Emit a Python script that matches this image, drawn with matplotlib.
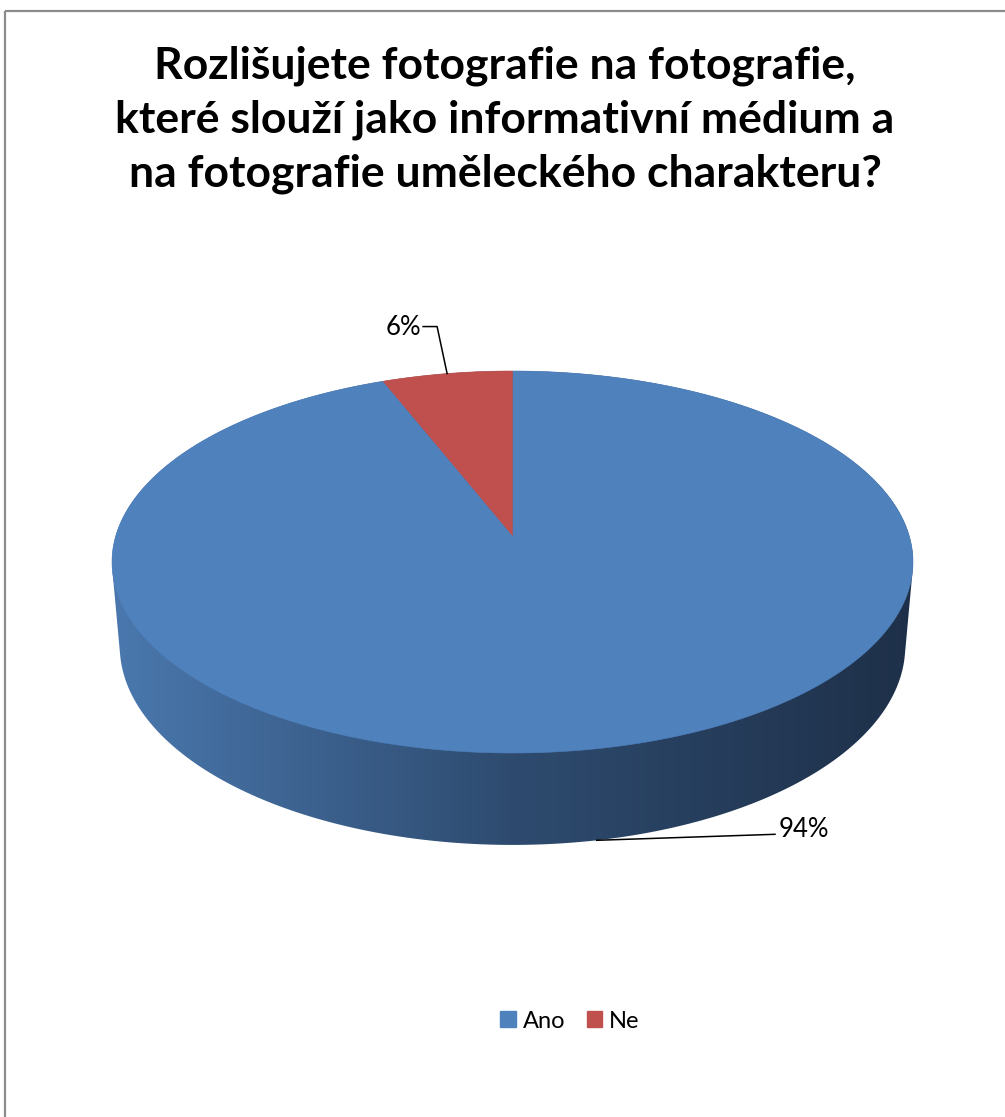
import numpy as np
import matplotlib
matplotlib.use('Agg')
import matplotlib.pyplot as plt
from matplotlib.patches import Polygon, Rectangle, Patch

# survey answers
labels = ['Ano', 'Ne']
values = [94, 6]
colors = ['#4F81BD', '#C0504D']
title_lines = ['Rozlišujete fotografie na fotografie,',
               'které slouží jako informativní médium a',
               'na fotografie uměleckého charakteru?']

W, H = 1005, 1117
FONT = ['Lato', 'DejaVu Sans']

# 3d pie view settings
elev = np.radians(29)
dist = 6.3
depth = 0.252
box = (112, 913, 371, 753)  # left, right, top, bottom of the top face


def project(t, y):
    X = np.cos(t)
    Z = -np.sin(t)
    yp = y * np.cos(elev) - Z * np.sin(elev)
    zp = y * np.sin(elev) + Z * np.cos(elev)
    s = dist / (dist - zp)
    return X * s, yp * s


tt = np.linspace(0, 2 * np.pi, 721)
ox, oy = project(tt, 0.0)
kx = (box[1] - box[0]) / (ox.max() - ox.min())
ky = (box[3] - box[2]) / (oy.max() - oy.min())


def to_px(x, y):
    return box[0] + (x - ox.min()) * kx, box[2] + (oy.max() - y) * ky


def face_pt(t, y=0.0):
    return to_px(*project(t, y))


def hull(pts):
    pts = sorted(set(map(tuple, np.round(pts, 4))))

    def cross(o, a, b):
        return (a[0] - o[0]) * (b[1] - o[1]) - (a[1] - o[1]) * (b[0] - o[0])

    lower, upper = [], []
    for p in pts:
        while len(lower) >= 2 and cross(lower[-2], lower[-1], p) <= 0:
            lower.pop()
        lower.append(p)
    for p in reversed(pts):
        while len(upper) >= 2 and cross(upper[-2], upper[-1], p) <= 0:
            upper.pop()
        upper.append(p)
    return np.array(lower[:-1] + upper[:-1])


fig = plt.figure(figsize=(W / 100, H / 100), dpi=100)
ax = fig.add_axes([0, 0, 1, 1])

# outer frame
ax.add_patch(Rectangle((5, 11), 1100, 1200, fill=False, ec='#8C8C8C', lw=1.6))

# title
for i, line in enumerate(title_lines):
    ax.text(505, 79 + i * 53.5, line, ha='center', va='baseline',
            fontsize=32, fontweight='bold', family=FONT, color='black')

# side wall with horizontal shading
tx, ty = face_pt(tt)
bx, by = face_pt(tt, -depth)
outline = hull(np.column_stack([np.r_[tx, bx], np.r_[ty, by]]))
side = Polygon(outline, closed=True, fc='none', ec='none')
ax.add_patch(side)
stops = np.array([[74, 120, 174], [46, 75, 111], [30, 48, 73]]) / 255.0
gx = np.linspace(0, 1, 400)
grad = np.stack([np.interp(gx, [0, 0.5, 1], stops[:, c]) for c in range(3)], axis=-1)
img = ax.imshow(grad[None, :, :], extent=(outline[:, 0].min(), outline[:, 0].max(),
                                          outline[:, 1].max(), outline[:, 1].min()),
                aspect='auto', interpolation='bilinear', zorder=1)
img.set_clip_path(side)

# top face slices, clockwise from 12 o'clock
cx, cy = to_px(0.0, 0.0)
start = np.pi / 2
mids = []
for val, col in zip(values, colors):
    span = 2 * np.pi * val / sum(values)
    ang = np.linspace(start, start - span, 300)
    px, py = face_pt(ang)
    ax.add_patch(Polygon(np.column_stack([np.r_[cx, px], np.r_[cy, py]]),
                         closed=True, fc=col, ec=col, lw=0.4, zorder=2))
    mids.append(start - span / 2)
    start -= span

# data labels with leader lines
pct = [f'{v}%' for v in values]
# Ne: small slice at the back
ax_, ay_ = face_pt(mids[1])
ex, ey = ax_ - 10, ay_ - 47
ax.plot([ax_, ex, ex - 14], [ay_, ey, ey], color='black', lw=1.1, zorder=3)
ax.text(ex - 16, ey + 1, pct[1], ha='right', va='center', fontsize=18.5,
        family=FONT, color='black')
# Ano: anchored on the lower rim of the side wall
ax_, ay_ = face_pt(mids[0], -depth)
ax.plot([ax_, 775], [ay_, ay_ - 6], color='black', lw=1.1, zorder=3)
ax.text(779, ay_ - 11, pct[0], ha='left', va='center', fontsize=18.5,
        family=FONT, color='black')

# legend
handles = [Patch(fc=c, ec=c) for c in colors]
leg = fig.legend(handles, labels, loc='center', bbox_to_anchor=(570 / W, 1 - 1021 / H),
                 ncol=2, frameon=False, handlelength=0.65, handleheight=0.65,
                 handletextpad=0.3, columnspacing=0.9,
                 prop={'family': FONT, 'size': 17})

ax.set_xlim(0, W)
ax.set_ylim(H, 0)
ax.axis('off')
fig.savefig('out.png', dpi=100, facecolor='white')
